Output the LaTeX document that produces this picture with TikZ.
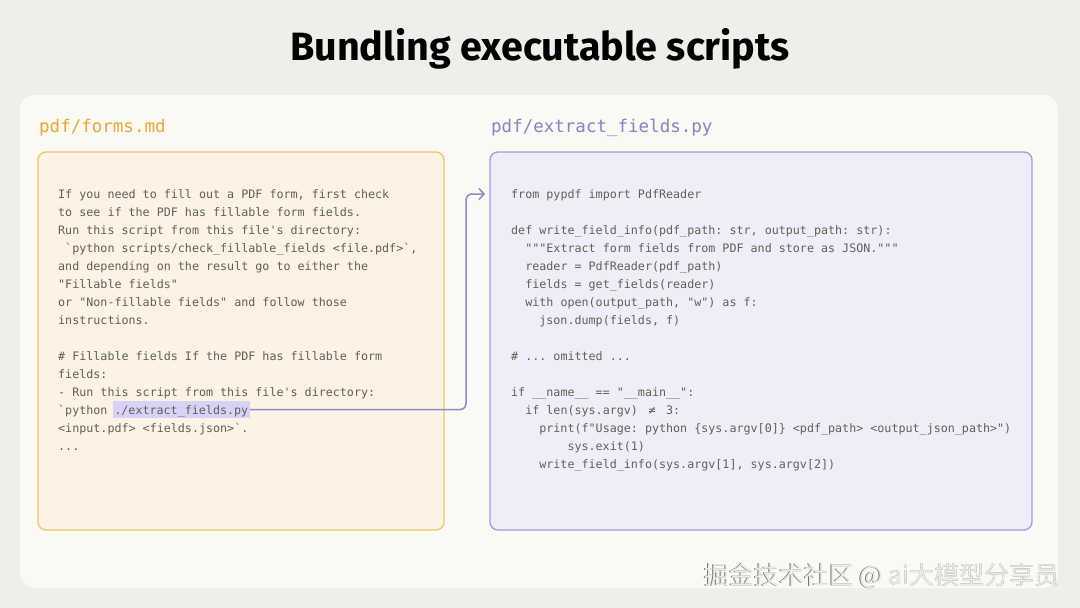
\documentclass[tikz,border=0pt]{standalone}
\usepackage{fontspec}
\setmonofont{DejaVu Sans Mono}
\newfontfamily\titlefont{Fira Sans}
\newfontfamily\cjkfont{Noto Sans CJK SC}
\usetikzlibrary{arrows.meta}
\definecolor{bgc}{HTML}{F0EEE8}
\definecolor{panelc}{HTML}{FAF9F4}
\definecolor{lfill}{HTML}{FDF3E4}
\definecolor{ldraw}{HTML}{EFC46A}
\definecolor{rfill}{HTML}{EFEEF8}
\definecolor{rdraw}{HTML}{A49BDB}
\definecolor{orangelab}{HTML}{E8A838}
\definecolor{purplelab}{HTML}{8C80CC}
\definecolor{codegray}{HTML}{625E58}
\definecolor{hlc}{HTML}{D8D2F6}
\definecolor{connc}{HTML}{8F86D6}
\tikzset{
  code/.style={font=\ttfamily\fontsize{11.7}{14}\selectfont, text=codegray, anchor=base west, inner sep=0pt},
  hlbox/.style={code, fill=hlc, inner xsep=1.5pt, inner ysep=0pt, text height=13.6pt, text depth=3.7pt},
  lab/.style={font=\ttfamily\fontsize{17.5}{20}\selectfont, anchor=base west, inner sep=0pt},
  cbox/.style={rounded corners=8pt, line width=1.3pt, inner sep=0pt},
  conn/.style={draw=connc, line width=1.5pt, rounded corners=6pt, -{Straight Barb[length=5pt,width=11pt]}},
  wmark/.style={font=\cjkfont\fontsize{25}{25}\selectfont, anchor=base east, inner sep=0pt},
}
\begin{document}
\begin{tikzpicture}[x=1pt,y=-1pt]
\useasboundingbox (0,0) rectangle (1080,608);
\fill[bgc] (0,0) rectangle (1080,608);
\node[fill=panelc, rounded corners=15pt, minimum width=1038pt, minimum height=493pt, inner sep=0pt] (panel) at (539,341.5) {};
\node[font=\titlefont\bfseries\fontsize{39.5}{42}\selectfont, anchor=base, inner sep=0pt] (title) at (540,60) {Bundling executable scripts};
\node[lab, text=orangelab] (llab) at (39,132.5) {pdf/forms.md};
\node[lab, text=purplelab] (rlab) at (491,132.5) {pdf/extract\_fields.py};
\node[cbox, fill=lfill, draw=ldraw, minimum width=406pt, minimum height=378pt] (lbox) at (241,341) {};
\node[cbox, fill=rfill, draw=rdraw, minimum width=542pt, minimum height=378pt] (rbox) at (761,341) {};
% left text
\node[code] (l0) at (58,198.5) {If you need to fill out a PDF form, first check};
\node[code] (l1) at (58,216.5) {to see if the PDF has fillable form fields.};
\node[code] (l2) at (58,234.5) {Run this script from this file's directory:};
\node[code] (l3) at (65.04,252.5) {`python scripts/check\_fillable\_fields <file.pdf>`,};
\node[code] (l4) at (58,270.5) {and depending on the result go to either the};
\node[code] (l5) at (58,288.5) {"Fillable fields"};
\node[code] (l6) at (58,306.5) {or "Non-fillable fields" and follow those};
\node[code] (l7) at (58,324.5) {instructions.};
\node[code] (l9) at (58,360.5) {\# Fillable fields If the PDF has fillable form};
\node[code] (l10) at (58,378.5) {fields:};
\node[code] (l11) at (58,396.5) {- Run this script from this file's directory:};
\node[code] (l12) at (58,414.5) {`python};
\node[hlbox] (hl) at (112.7,414.5) {./extract\_fields.py};
\node[code] (l13) at (58,432.5) {<input.pdf> <fields.json>`.};
\node[code] (l14) at (58,450.5) {...};
% right text
\node[code] (r0) at (511,198.5) {from pypdf import PdfReader};
\node[code] (r2) at (511,234.5) {def write\_field\_info(pdf\_path: str, output\_path: str):};
\node[code] (r3) at (525.08,252.5) {"""Extract form fields from PDF and store as JSON."""};
\node[code] (r4) at (525.08,270.5) {reader = PdfReader(pdf\_path)};
\node[code] (r5) at (525.08,288.5) {fields = get\_fields(reader)};
\node[code] (r6) at (525.08,306.5) {with open(output\_path, "w") as f:};
\node[code] (r7) at (539.16,324.5) {json.dump(fields, f)};
\node[code] (r9) at (511,360.5) {\# ... omitted ...};
\node[code] (r11) at (511,396.5) {if \_\_name\_\_ == "\_\_main\_\_":};
\node[code] (r12) at (525.08,414.5) {if len(sys.argv)\makebox[28.16pt]{≠}3:};
\node[code] (r13) at (539.16,432.5) {print(f"Usage: python \{sys.argv[0]\} <pdf\_path> <output\_json\_path>")};
\node[code] (r14) at (567.32,450.5) {sys.exit(1)};
\node[code] (r15) at (539.16,468.5) {write\_field\_info(sys.argv[1], sys.argv[2])};
% connector
\coordinate (turn) at (466,194);
\coordinate (tip) at (485,194);
\draw[conn] (hl.east) -| (turn) -- (tip);
% watermark
\node[wmark, text=black!55] (wms) at (1059.3,584.7) {掘金技术社区 @ ai大模型分享员};
\node[wmark, text=white!92!black] (wm) at (1060,584) {掘金技术社区 @ ai大模型分享员};
\end{tikzpicture}
\end{document}
